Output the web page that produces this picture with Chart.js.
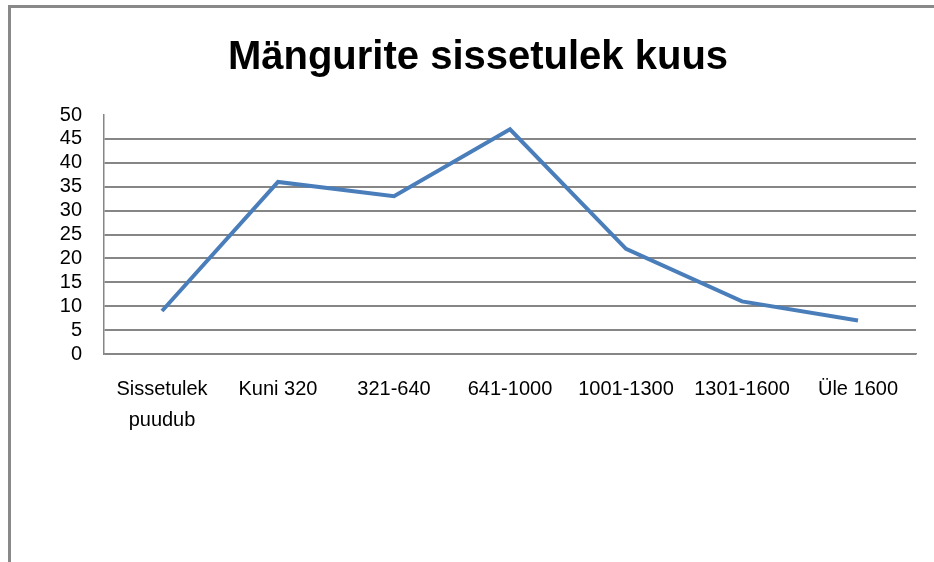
<!DOCTYPE html>
<html>
<head>
<meta charset="utf-8">
<script src="https://cdn.jsdelivr.net/npm/chart.js@4/dist/chart.umd.min.js"></script>
<style>
    html, body { margin: 0; padding: 0; background: #fff; }
    #wrap { position: relative; width: 934px; height: 562px; overflow: hidden; }
    #frame {
        position: absolute; left: 8px; top: 5px; width: 1000px; height: 1000px;
        border-top: 3px solid #898989; border-left: 3px solid #898989;
    }
    canvas { position: absolute; left: 0; top: 0; }
</style>
</head>
<body>
<div id="wrap">
    <div id="frame"></div>
    <canvas id="chart" width="934" height="562"></canvas>
</div>
<script>
const categories = [
    ['Sissetulek', 'puudub'],
    'Kuni 320',
    '321-640',
    '641-1000',
    '1001-1300',
    '1301-1600',
    'Üle 1600'
];
const players = [9, 36, 33, 47, 22, 11, 7];
const yTicks = { min: 0, max: 50, step: 5 };

const GRID = '#868686';
const FONT = 'Liberation Sans';

new Chart(document.getElementById('chart'), {
    type: 'line',
    data: {
        labels: categories,
        datasets: [{
            data: players,
            borderColor: '#4a7ebb',
            borderWidth: 4,
            tension: 0,
            pointRadius: 0,
            fill: false
        }]
    },
    options: {
        responsive: false,
        animation: false,
        // left padding pushes the title centre to the right like in the original
        layout: { padding: { left: 40, right: 18, top: 0, bottom: 0 } },
        plugins: {
            legend: { display: false },
            tooltip: { enabled: false },
            title: {
                display: true,
                text: 'Mängurite sissetulek kuus',
                color: '#000',
                font: { family: FONT, size: 40, weight: 'bold', lineHeight: 1.2 },
                padding: { top: 34, bottom: 33 }
            }
        },
        scales: {
            x: {
                offset: true,
                grid: { display: false, drawTicks: false },
                border: { display: true, color: GRID, width: 1.5 },
                ticks: {
                    color: '#000',
                    autoSkip: false,
                    maxRotation: 0,
                    minRotation: 0,
                    padding: 20,
                    font: { family: FONT, size: 20, lineHeight: 1.55 }
                },
                afterFit: (scale) => { scale.height = 208; }
            },
            y: {
                min: yTicks.min,
                max: yTicks.max,
                grid: {
                    drawTicks: false,
                    lineWidth: 2,
                    color: (ctx) => (ctx.tick && ctx.tick.value === yTicks.max) ? 'rgba(0,0,0,0)' : GRID
                },
                border: { display: true, color: GRID, width: 1.5 },
                ticks: {
                    stepSize: yTicks.step,
                    autoSkip: false,
                    color: '#000',
                    padding: 22,
                    font: { family: FONT, size: 20, lineHeight: 1 }
                },
                afterFit: (scale) => { scale.width = 64; }
            }
        }
    }
});
</script>
</body>
</html>
